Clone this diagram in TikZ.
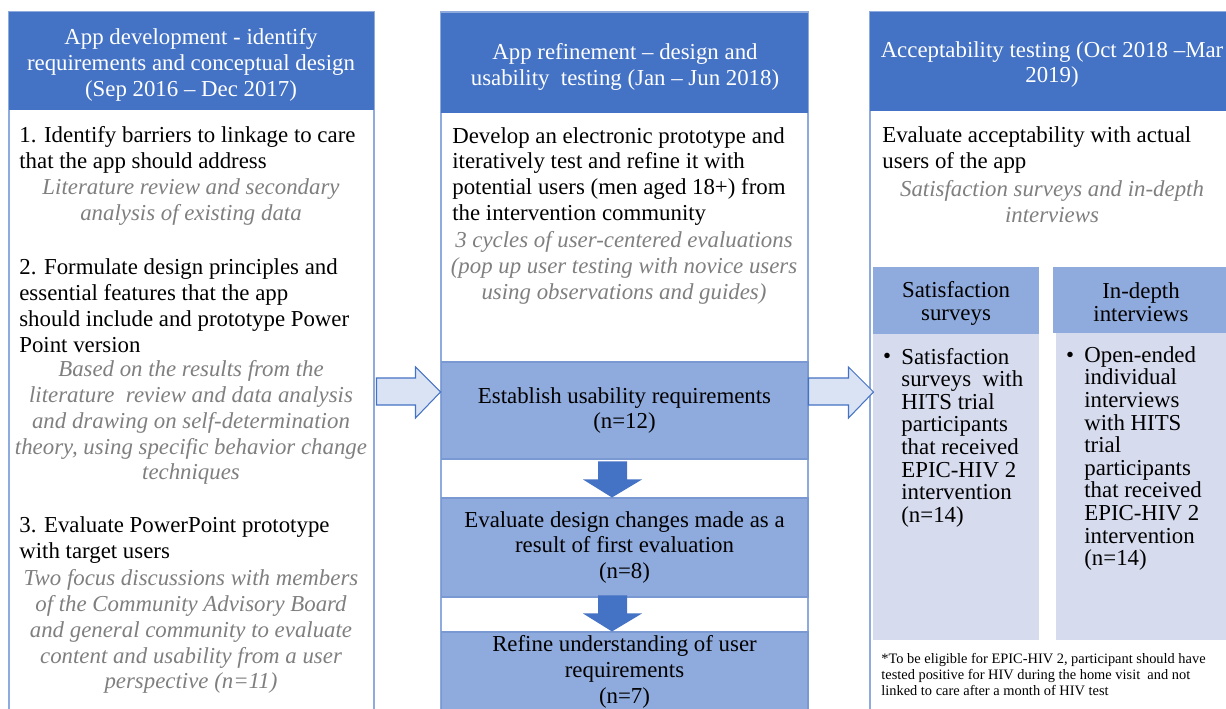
\documentclass[tikz,border=0pt]{standalone}
\usepackage{fontspec}
\setmainfont{Liberation Serif}
\usepackage{tikz}
\usetikzlibrary{positioning}
\usetikzlibrary{calc}

\definecolor{headblue}{HTML}{4472C4}
\definecolor{stageblue}{HTML}{8FAADC}
\definecolor{edgeblue}{HTML}{7A98D2}
\definecolor{framblue}{HTML}{8FAADC}
\definecolor{subgrey}{HTML}{D6DBEE}
\definecolor{arrowfill}{HTML}{DAE3F3}
\definecolor{notegrey}{HTML}{7F7F7F}

\newcommand{\mainsize}{\fontsize{13}{14.75}\selectfont}

\tikzset{
    colframe/.style={draw=framblue, line width=0.6pt},
    header/.style={fill=headblue},
    headtext/.style={text=white, align=center, inner sep=0pt, yshift=-0.04cm},
    steptext/.style={anchor=west, align=left, inner sep=0pt, yshift=-0.04cm},
    method/.style={text=notegrey, align=center, inner sep=0pt, font=\mainsize\itshape, yshift=-0.05cm},
    stagebox/.style={fill=stageblue, draw=edgeblue, line width=0.6pt, align=center, inner sep=0pt, minimum width=7.34cm},
    subhead/.style={fill=stageblue},
    subbody/.style={fill=subgrey},
    subtext/.style={align=center, inner sep=0pt, font=\fontsize{13}{13.03}\selectfont, yshift=-0.04cm},
    listdot/.style={inner sep=0pt, font=\mainsize, yshift=-0.04cm},
    listtext/.style={anchor=west, align=left, inner sep=0pt, font=\fontsize{13}{12.86}\selectfont, yshift=-0.04cm},
    smallprint/.style={anchor=west, align=left, inner sep=0pt, font=\fontsize{8.2}{9.36}\selectfont},
    hollowarrow/.style={fill=arrowfill, draw=headblue, line width=0.6pt},
    downarrow/.style={fill=headblue}
}

\begin{document}
\begin{tikzpicture}[x=0.02cm, y=-0.02cm, font=\mainsize]
    \clip (0,0) rectangle (1226,709);

    \coordinate (devcol) at (9,12);
    \coordinate (refcol) at (441,12);
    \coordinate (acccol) at (870,12);

    % columns and their headers
    \draw[colframe] (devcol) rectangle ++(365,710);
    \fill[header] (devcol) rectangle ++(365,98);
    \draw[colframe] (refcol) rectangle ++(367,710);
    \fill[header] ($(refcol)+(0,1)$) rectangle ++(367,100);
    \draw[colframe] (acccol) rectangle ++(380,710);
    \fill[header] (acccol) rectangle ++(380,99);

    % app development
    \node[headtext] (devhead) at (191,63) {App development - identify\\requirements and conceptual design\\(Sep 2016 – Dec 2017)};
    \node[steptext] (devstep1) at (19,148) {1. Identify barriers to linkage to care\\that the app should address};
    \node[method] (devnote1) at (191,199.5) {Literature review and secondary\\analysis of existing data};
    \node[steptext] (devstep2) at (19,303.5) {2. Formulate design principles and\\essential features that the app\\should include and prototype Power\\Point version};
    \node[method] (devnote2) at (191,420) {Based on the results from the\\literature \ review and data analysis\\and drawing on self-determination\\theory, using specific behavior change\\techniques};
    \node[steptext] (devstep3) at (19,538) {3. Evaluate PowerPoint prototype\\with target users};
    \node[method] (devnote3) at (191,629) {Two focus discussions with members\\of the Community Advisory Board\\and general community to evaluate\\content and usability from a user\\perspective (n=11)};

    % app refinement
    \node[headtext] (refhead) at (625,65) {App refinement – design and\\usability \ testing (Jan – Jun 2018)};
    \node[steptext] (refstep) at (452,174.5) {Develop an electronic prototype and\\iteratively test and refine it with\\potential users (men aged 18+) from\\the intervention community};
    \node[method] (refnote) at (624,265.5) {3 cycles of user-centered evaluations\\(pop up user testing with novice users\\using observations and guides)};
    \node[stagebox, minimum height=1.94cm] (establish) at (624.5,410.5) {Establish usability requirements\\(n=12)};
    \node[stagebox, minimum height=1.98cm] (evaluate) at (624.5,547.5) {Evaluate design changes made as a\\result of first evaluation\\(n=8)};
    \node[stagebox, minimum height=1.6cm] (refine) at (624.5,672) {Refine understanding of user\\requirements\\(n=7)};

    \fill[downarrow] ($(evaluate.north)+(-12.5,0)$) -- ++(-29,-18) -- ++(15,0) -- ++(0,-18) -- ++(29,0) -- ++(0,18) -- ++(15,0) -- cycle;
    \fill[downarrow] ($(refine.north)+(-12.5,0)$) -- ++(-29,-18) -- ++(15,0) -- ++(0,-18) -- ++(29,0) -- ++(0,18) -- ++(15,0) -- cycle;

    % acceptability testing
    \node[headtext] (acchead) at (1052,62.5) {Acceptability testing (Oct 2018 –Mar\\2019)};
    \node[steptext] (accstep) at (882,148) {Evaluate acceptability with actual\\users of the app};
    \node[method] (accnote) at (1052,199.5) {Satisfaction surveys and in-depth\\interviews};

    \fill[subhead] (873,267) rectangle (1039,334);
    \fill[subbody] (873,334) rectangle (1039,640);
    \fill[subhead] (1053,267) rectangle (1240,333);
    \fill[subbody] (1056,333) rectangle (1240,640);
    \node[subtext] (surveyhead) at (956,301.5) {Satisfaction\\surveys};
    \node[subtext] (interviewhead) at (1141,300) {In-depth\\interviews};
    \node[listdot] (surveydot) at (887,356) {\textbullet};
    \node[listtext] (surveylist) at (901,435.5) {Satisfaction\\surveys \ with\\HITS trial\\participants\\that received\\EPIC-HIV 2\\intervention\\(n=14)};
    \node[listdot] (interviewdot) at (1070,355) {\textbullet};
    \node[listtext] (interviewlist) at (1084,456.5) {Open-ended\\individual\\interviews\\with HITS\\trial\\participants\\that received\\EPIC-HIV 2\\intervention\\(n=14)};
    \node[smallprint] (eligibility) at (881,674.5) {*To be eligible for EPIC-HIV 2, participant should have\\tested positive for HIV during the home visit \ and not\\linked to care after a month of HIV test};

    % links between the columns
    \draw[hollowarrow] ($(establish.west)+(0,-18.5)$) -- ++(-25,-25) -- ++(0,11) -- ++(-39,0) -- ++(0,27) -- ++(39,0) -- ++(0,13) -- cycle;
    \draw[hollowarrow] ($(establish.east)+(65,-18.5)$) -- ++(-25,-25) -- ++(0,11) -- ++(-40,0) -- ++(0,27) -- ++(40,0) -- ++(0,13) -- cycle;
\end{tikzpicture}
\end{document}
